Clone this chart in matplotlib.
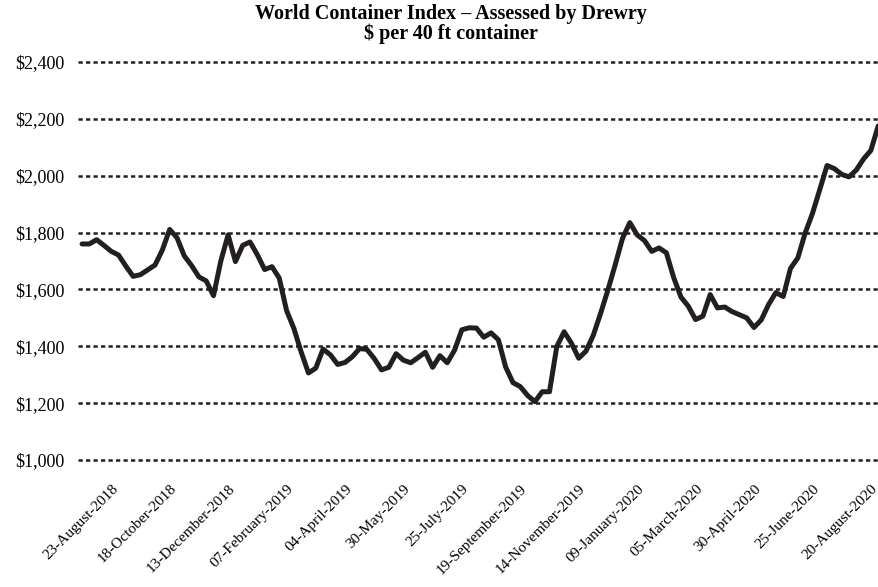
import numpy as np
import pandas as pd
import matplotlib
matplotlib.use("Agg")
import matplotlib.pyplot as plt

# weekly WCI composite, $ per 40ft container
dates = pd.date_range("2018-07-19", periods=110, freq="7D")
wci = [1760, 1760, 1775, 1755, 1734, 1721, 1682, 1646, 1652, 1669,
       1686, 1739, 1811, 1782, 1718, 1684, 1644, 1630, 1578, 1700,
       1792, 1698, 1755, 1767, 1722, 1670, 1680, 1640, 1526, 1463,
       1380, 1306, 1323, 1390, 1370, 1336, 1343, 1363, 1392, 1389,
       1357, 1317, 1326, 1374, 1351, 1342, 1360, 1379, 1326, 1367,
       1342, 1386, 1458, 1465, 1464, 1432, 1447, 1423, 1327, 1272,
       1258, 1227, 1205, 1240, 1240, 1399, 1451, 1411, 1358, 1383,
       1439, 1516, 1598, 1687, 1780, 1835, 1792, 1772, 1734, 1746,
       1729, 1642, 1573, 1541, 1494, 1506, 1582, 1535, 1538, 1522,
       1511, 1500, 1466, 1493, 1547, 1589, 1575, 1674, 1711, 1798,
       1867, 1951, 2036, 2025, 2005, 1996, 2020, 2059, 2089, 2175]

yticks = [1000, 1200, 1400, 1600, 1800, 2000, 2200, 2400]
tick_dates = dates[5::8]

ink = "#231f20"
serif = ["Liberation Serif", "DejaVu Serif"]

fig = plt.figure(figsize=(8.79, 5.87), dpi=100)
ax = fig.add_axes([0.0887, 0.2116, 0.9113, 0.6875])

ax.plot(dates, wci, color=ink, lw=3.6, solid_joinstyle="round",
        solid_capstyle="round", zorder=3)

for v in yticks:
    ax.axhline(v, color=ink, lw=1.8, ls=(0, (1.7, 1.3)), zorder=1)

ax.set_ylim(990, 2410)
ax.set_xlim(dates[0] - pd.Timedelta(days=3.9), dates[-1] + pd.Timedelta(days=0.8))
ax.set_yticks(yticks)
ax.set_yticklabels(["${:,}".format(v) for v in yticks], family=serif, fontsize=13)
ax.set_xticks(tick_dates)
ax.set_xticklabels([d.strftime("%d-%B-%Y") for d in tick_dates], family=serif,
                   fontsize=11, rotation=45, ha="right", va="baseline",
                   rotation_mode="anchor")
ax.tick_params(axis="y", length=0, pad=10)
ax.tick_params(axis="x", length=0, pad=19)
for s in ax.spines.values():
    s.set_visible(False)

fig.text(0.513, 0.993, "World Container Index \u2013 Assessed by Drewry\n$ per 40 ft container",
         ha="center", va="top", family=serif, fontweight="bold", fontsize=14.5,
         linespacing=0.95)

fig.savefig("out.png", dpi=100)
